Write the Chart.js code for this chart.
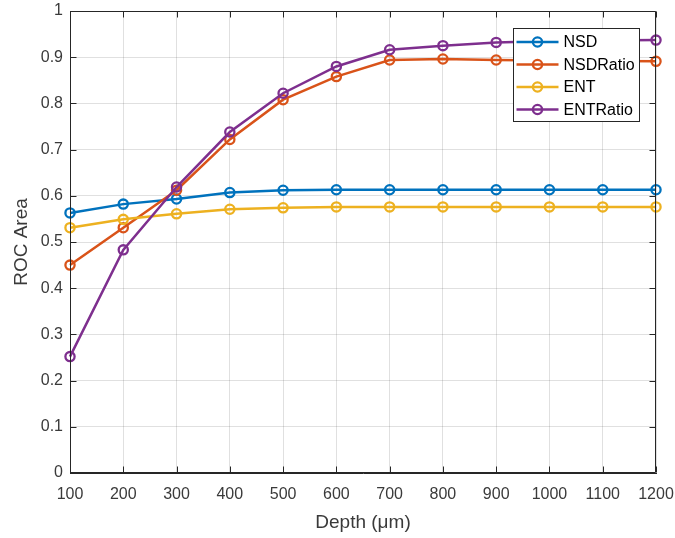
<!DOCTYPE html>
<html>
<head>
<meta charset="utf-8">
<script src="https://cdn.jsdelivr.net/npm/chart.js@4/dist/chart.umd.min.js"></script>
<style>
  html, body { margin: 0; padding: 0; background: #ffffff; }
  #wrap { width: 675px; height: 538px; position: relative; }
</style>
</head>
<body>
<div id="wrap"><canvas id="c" width="675" height="538"></canvas></div>
<script>
// ---- data ----
const depths = [100, 200, 300, 400, 500, 600, 700, 800, 900, 1000, 1100, 1200];
const nsd      = [0.563, 0.582, 0.593, 0.607, 0.612, 0.613, 0.613, 0.613, 0.613, 0.613, 0.613, 0.613];
const nsdRatio = [0.450, 0.531, 0.612, 0.722, 0.808, 0.858, 0.894, 0.896, 0.894, 0.893, 0.892, 0.891];
const ent      = [0.531, 0.549, 0.561, 0.571, 0.574, 0.576, 0.576, 0.576, 0.576, 0.576, 0.576, 0.576];
const entRatio = [0.252, 0.483, 0.619, 0.738, 0.822, 0.880, 0.916, 0.925, 0.932, 0.935, 0.936, 0.937];
const seriesNames = ['NSD', 'NSDRatio', 'ENT', 'ENTRatio'];
const seriesColors = ['#0072BD', '#D95319', '#EDB120', '#7E2F8E'];
const xTitle = 'Depth (\u03bcm)';
const yTitle = 'ROC Area';

const FONT = '"Liberation Sans", Arial, Helvetica, sans-serif';
const AXIS = '#262626';

function toPoints(arr) { return depths.map((d, i) => ({ x: d, y: arr[i] })); }
const allSeries = [nsd, nsdRatio, ent, entRatio];

const datasets = allSeries.map((arr, i) => ({
  label: seriesNames[i],
  data: toPoints(arr),
  borderColor: seriesColors[i],
  backgroundColor: seriesColors[i],
  borderWidth: 2.5,
  pointRadius: 4.6,
  pointHoverRadius: 4.6,
  pointBorderWidth: 2.3,
  pointBackgroundColor: 'rgba(0,0,0,0)',
  pointBorderColor: seriesColors[i],
  tension: 0,
  clip: false,
  order: 3 - i
}));

// frame + inward ticks (MATLAB box style)
const framePlugin = {
  id: 'frame',
  afterDatasetsDraw(chart) {
    const { ctx, chartArea: a, scales } = chart;
    ctx.save();
    ctx.strokeStyle = AXIS;
    ctx.lineWidth = 1;
    const L = Math.round(a.left) + 0.5, R = Math.round(a.right) - 0.5;
    const T = Math.round(a.top) + 0.5, B = Math.round(a.bottom) - 0.5;
    ctx.beginPath();
    ctx.rect(L, T, R - L, B - T);
    const tl = 6;
    scales.x.ticks.forEach(t => {
      const px = Math.round(scales.x.getPixelForValue(t.value)) + 0.5;
      ctx.moveTo(px, B); ctx.lineTo(px, B - tl);
      ctx.moveTo(px, T); ctx.lineTo(px, T + tl);
    });
    scales.y.ticks.forEach(t => {
      const py = Math.round(scales.y.getPixelForValue(t.value)) + 0.5;
      ctx.moveTo(L, py); ctx.lineTo(L + tl, py);
      ctx.moveTo(R, py); ctx.lineTo(R - tl, py);
    });
    ctx.stroke();
    ctx.restore();
  }
};

// legend drawn inside the plot area (upper right)
const insideLegend = {
  id: 'insideLegend',
  afterDraw(chart) {
    const { ctx, chartArea: a } = chart;
    const w = 126, h = 93;
    const x0 = Math.round(a.right - 17 - w) + 0.5;
    const y0 = Math.round(a.top + 17) + 0.5;
    ctx.save();
    ctx.fillStyle = '#ffffff';
    ctx.fillRect(x0, y0, w, h);
    ctx.strokeStyle = AXIS;
    ctx.lineWidth = 1;
    ctx.strokeRect(x0, y0, w, h);
    ctx.font = '16px ' + FONT;
    ctx.textBaseline = 'middle';
    ctx.textAlign = 'left';
    chart.data.datasets.forEach((ds, i) => {
      const cy = y0 + 13.5 + i * 22.5;
      ctx.strokeStyle = ds.borderColor;
      ctx.lineWidth = 2.5;
      ctx.beginPath();
      ctx.moveTo(x0 + 3, cy); ctx.lineTo(x0 + 45, cy);
      ctx.stroke();
      ctx.lineWidth = 2.3;
      ctx.beginPath();
      ctx.arc(x0 + 24, cy, 4.6, 0, Math.PI * 2);
      ctx.stroke();
      ctx.fillStyle = '#000000';
      ctx.fillText(ds.label, x0 + 50, cy + 1);
    });
    ctx.restore();
  }
};

new Chart(document.getElementById('c'), {
  type: 'line',
  data: { datasets },
  plugins: [framePlugin, insideLegend],
  options: {
    responsive: false,
    animation: false,
    events: [],
    layout: { padding: { left: 0, right: 19, top: 11, bottom: 0 } },
    plugins: {
      legend: { display: false },
      tooltip: { enabled: false },
      title: { display: false }
    },
    scales: {
      x: {
        type: 'linear',
        min: 100, max: 1200,
        afterFit(s) { s.height = 65; s.paddingLeft = 0; s.paddingRight = 0; },
        ticks: {
          stepSize: 100,
          autoSkip: false,
          maxRotation: 0,
          color: '#3a3a3a',
          padding: 12,
          font: { family: FONT, size: 16 },
          callback: v => String(v)
        },
        grid: { color: 'rgba(38,38,38,0.14)', lineWidth: 1, drawTicks: false },
        border: { display: true, color: AXIS, width: 1 },
        title: {
          display: true,
          text: xTitle,
          color: '#3a3a3a',
          font: { family: FONT, size: 19 },
          padding: { top: 0, bottom: 4 }
        }
      },
      y: {
        type: 'linear',
        min: 0, max: 1,
        afterFit(s) { s.width = 70; s.paddingTop = 0; s.paddingBottom = 0; },
        ticks: {
          stepSize: 0.1,
          color: '#3a3a3a',
          padding: 7,
          font: { family: FONT, size: 16 },
          callback: v => String(Math.round(v * 10) / 10)
        },
        grid: { color: 'rgba(38,38,38,0.14)', lineWidth: 1, drawTicks: false },
        border: { display: true, color: AXIS, width: 1 },
        title: {
          display: true,
          text: yTitle,
          color: '#3a3a3a',
          font: { family: FONT, size: 19 },
          padding: { top: 10, bottom: 0 }
        }
      }
    }
  }
});
</script>
</body>
</html>
